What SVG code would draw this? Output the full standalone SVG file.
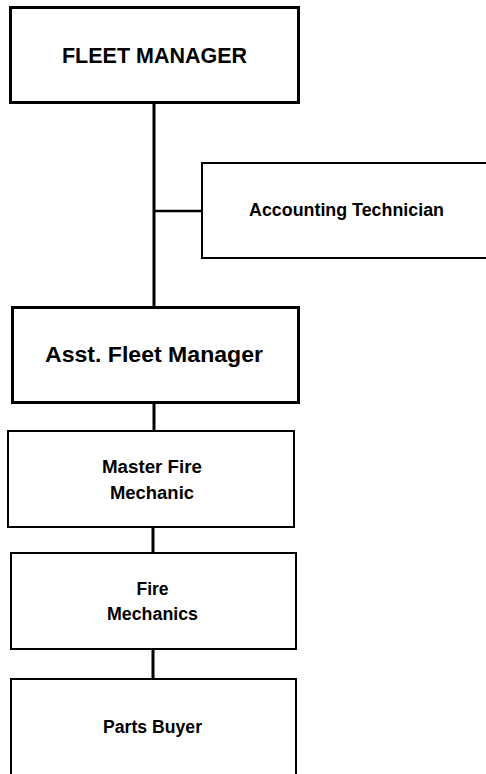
<svg xmlns="http://www.w3.org/2000/svg" width="486" height="774" viewBox="0 0 486 774">
<style>
.box{fill:#fff;stroke:#000;stroke-width:2}
.big{stroke-width:3}
.t{font-family:"Liberation Sans",Arial,sans-serif;font-weight:bold;fill:#000;text-anchor:middle}
.lg{font-size:22px}
.sm{font-size:17.5px}
.c{stroke:#000;fill:none}
</style>
<rect width="486" height="774" fill="#fff"/>
<g id="connectors">
<line class="c" x1="154" y1="102" x2="154" y2="307" stroke-width="3"/>
<line class="c" x1="154" y1="211" x2="202" y2="211" stroke-width="2.5"/>
<line class="c" x1="154" y1="402" x2="154" y2="431" stroke-width="3"/>
<line class="c" x1="153" y1="527" x2="153" y2="553" stroke-width="3"/>
<line class="c" x1="153" y1="649" x2="153" y2="679" stroke-width="3"/>
</g>
<g id="fleet-manager">
<rect class="box big" x="10.5" y="7.5" width="288" height="95"/>
<text class="t lg" x="154.5" y="63" textLength="185" lengthAdjust="spacingAndGlyphs">FLEET MANAGER</text>
</g>
<g id="accounting-technician">
<rect class="box" x="202" y="163" width="300" height="95"/>
<text class="t sm" x="346.5" y="216" textLength="195" lengthAdjust="spacingAndGlyphs">Accounting Technician</text>
</g>
<g id="asst-fleet-manager">
<rect class="box big" x="12.5" y="307.5" width="286" height="95"/>
<text class="t lg" x="154" y="362" textLength="218" lengthAdjust="spacingAndGlyphs">Asst. Fleet Manager</text>
</g>
<g id="master-fire-mechanic">
<rect class="box" x="8" y="431" width="286" height="96"/>
<text class="t sm" x="152" y="473" textLength="100" lengthAdjust="spacingAndGlyphs">Master Fire</text>
<text class="t sm" x="152" y="499" textLength="84" lengthAdjust="spacingAndGlyphs">Mechanic</text>
</g>
<g id="fire-mechanics">
<rect class="box" x="11" y="553" width="285" height="96"/>
<text class="t sm" x="152.5" y="595">Fire</text>
<text class="t sm" x="152.5" y="620" textLength="91" lengthAdjust="spacingAndGlyphs">Mechanics</text>
</g>
<g id="parts-buyer">
<rect class="box" x="11" y="679" width="285" height="110"/>
<text class="t sm" x="152.5" y="733" textLength="99" lengthAdjust="spacingAndGlyphs">Parts Buyer</text>
</g>
</svg>
